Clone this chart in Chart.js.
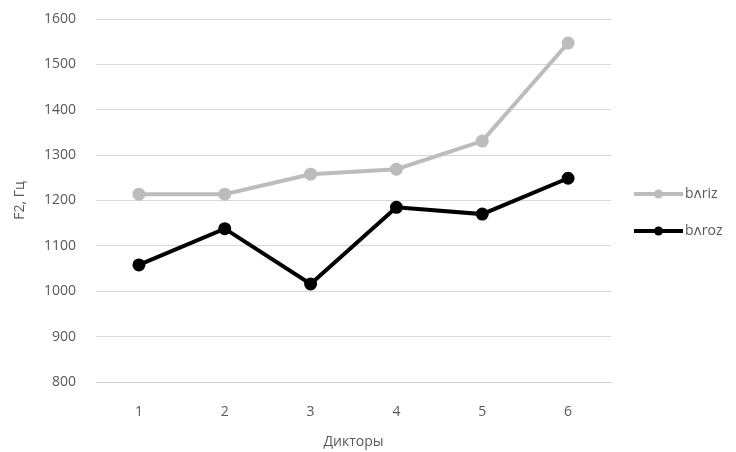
<!DOCTYPE html>
<html>
<head>
<meta charset="utf-8">
<script src="https://cdn.jsdelivr.net/npm/chart.js@4"></script>
<style>
  html, body { margin: 0; padding: 0; background: #fff; }
  #wrap { width: 736px; height: 452px; }
</style>
</head>
<body>
<div id="wrap"><canvas id="f2Chart" width="736" height="452"></canvas></div>
<script>
// data
const speakers = ['1', '2', '3', '4', '5', '6'];
const barizValues = [1214, 1214, 1258, 1269, 1331, 1547];
const barozValues = [1058, 1138, 1016, 1185, 1170, 1249];
const seriesNames = ['bʌriz', 'bʌroz'];
const seriesColors = ['#bcbcbc', '#000000'];

const textColor = '#595959';
const fontFamily = '"Open Sans", "DejaVu Sans", sans-serif';

// legend drawn by hand, line + dot like the original
var sideLegend = {
  id: 'sideLegend',
  afterDraw(chart) {
    const { ctx } = chart;
    ctx.save();
    chart.data.datasets.forEach((ds, i) => {
      const y = 194 + i * 37;
      const x0 = 634, x1 = 683;
      ctx.strokeStyle = ds.borderColor;
      ctx.lineWidth = 4;
      ctx.beginPath();
      ctx.moveTo(x0, y);
      ctx.lineTo(x1, y);
      ctx.stroke();
      ctx.fillStyle = ds.borderColor;
      ctx.beginPath();
      ctx.arc((x0 + x1) / 2, y, 4.5, 0, Math.PI * 2);
      ctx.fill();
      ctx.fillStyle = textColor;
      ctx.font = `14px ${fontFamily}`;
      ctx.textAlign = 'left';
      ctx.textBaseline = 'middle';
      ctx.fillText(ds.label, x1 + 2, y);
    });
    ctx.restore();
  }
};

const config = {
  type: 'line',
  data: {
    labels: speakers,
    datasets: [
      {
        label: seriesNames[0],
        data: barizValues,
        borderColor: seriesColors[0],
        backgroundColor: seriesColors[0],
        borderWidth: 4,
        pointRadius: 4.5,
        pointHoverRadius: 4.5,
        tension: 0
      },
      {
        label: seriesNames[1],
        data: barozValues,
        borderColor: seriesColors[1],
        backgroundColor: seriesColors[1],
        borderWidth: 4,
        pointRadius: 4.5,
        pointHoverRadius: 4.5,
        tension: 0
      }
    ]
  },
  options: {
    responsive: false,
    animation: false,
    layout: { autoPadding: false, padding: { top: 19, right: 125, left: 0, bottom: 0 } },
    plugins: {
      legend: { display: false },
      tooltip: { enabled: false }
    },
    scales: {
      x: {
        offset: true,
        grid: { display: false, drawTicks: false },
        border: { display: true, color: '#d0d0d0', width: 1 },
        ticks: { color: textColor, font: { family: fontFamily, size: 14 }, padding: 22 },
        title: {
          display: true,
          text: 'Дикторы',
          color: textColor,
          font: { family: fontFamily, size: 14 },
          padding: { top: 4, bottom: 2 }
        },
        afterFit(scale) { scale.height = 70; }
      },
      y: {
        min: 800,
        max: 1600,
        ticks: {
          stepSize: 100,
          color: textColor,
          font: { family: fontFamily, size: 14 },
          padding: 20,
          callback: (v) => String(v)
        },
        grid: { color: '#d9d9d9', lineWidth: 1, drawTicks: false },
        border: { display: false },
        title: {
          display: true,
          text: 'F2, Гц',
          color: textColor,
          font: { family: fontFamily, size: 14 },
          padding: { top: 12, bottom: 4 }
        },
        afterFit(scale) {
          scale.width = 96;
          // the rotated title inflates this, keep it to half a label
          scale.paddingTop = 8;
          scale.paddingBottom = 8;
        }
      }
    }
  },
  plugins: [sideLegend]
};

const f2Chart = new Chart(document.getElementById('f2Chart'), config);
</script>
</body>
</html>
